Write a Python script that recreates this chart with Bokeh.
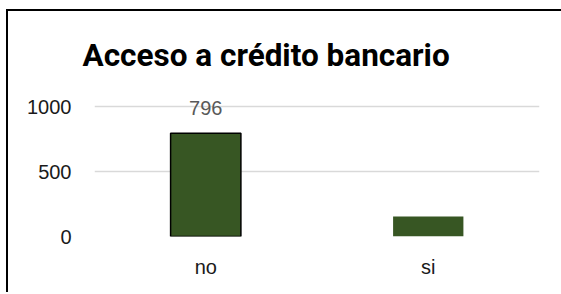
from bokeh.plotting import figure
from bokeh.models import ColumnDataSource, LabelSet, Range1d, FixedTicker
from bokeh.core.properties import value
from bokeh.embed import file_html
from bokeh.resources import INLINE

categories = ["no", "si"]
values = [796, 155]
labels = ["796", ""]
outline_colors = ["black", None]
y_ticks = [0, 500, 1000]

source = ColumnDataSource(data=dict(cat=categories, val=values, lab=labels, oc=outline_colors))

p = figure(x_range=categories, y_range=Range1d(0, 1080), width=553, height=281,
           output_backend="svg", toolbar_location=None,
           min_border_left=86, min_border_right=24, min_border_top=85, min_border_bottom=58)

p.vbar(x="cat", top="val", width=0.316, source=source, fill_color="#375623",
       line_color="oc", line_width=1.5)

p.add_layout(LabelSet(x="cat", y="val", text="lab", source=source, y_offset=25,
                      text_align="center", text_baseline="middle",
                      text_font=value("Liberation Sans"), text_font_size="20px",
                      text_color="#595959"))

p.title.text = "Acceso a crédito bancario"
p.title.text_font = "Roboto"
p.title.text_font_style = "bold"
p.title.text_font_size = "31.5px"
p.title.text_color = "black"
p.title.align = "left"
p.title.offset = -12
p.title.standoff = 45

p.outline_line_color = None
p.xgrid.grid_line_color = None
p.ygrid.grid_line_color = "#d9d9d9"
p.ygrid.grid_line_width = 1.5
p.yaxis.ticker = FixedTicker(ticks=y_ticks)

for ax in (p.xaxis, p.yaxis):
    ax.axis_line_color = None
    ax.major_tick_line_color = None
    ax.minor_tick_line_color = None
    ax.major_tick_out = 0
    ax.major_label_text_font = "Liberation Sans"
    ax.major_label_text_font_size = "20px"
    ax.major_label_text_color = "#1a1a1a"
p.yaxis.major_label_standoff = 23
p.xaxis.major_label_standoff = 19

p.styles = {"margin-left": "6px", "margin-top": "9px", "box-sizing": "content-box",
            "border-left": "2px solid black", "border-top": "2px solid black"}

open("out.html", "w").write(file_html(p, INLINE))
